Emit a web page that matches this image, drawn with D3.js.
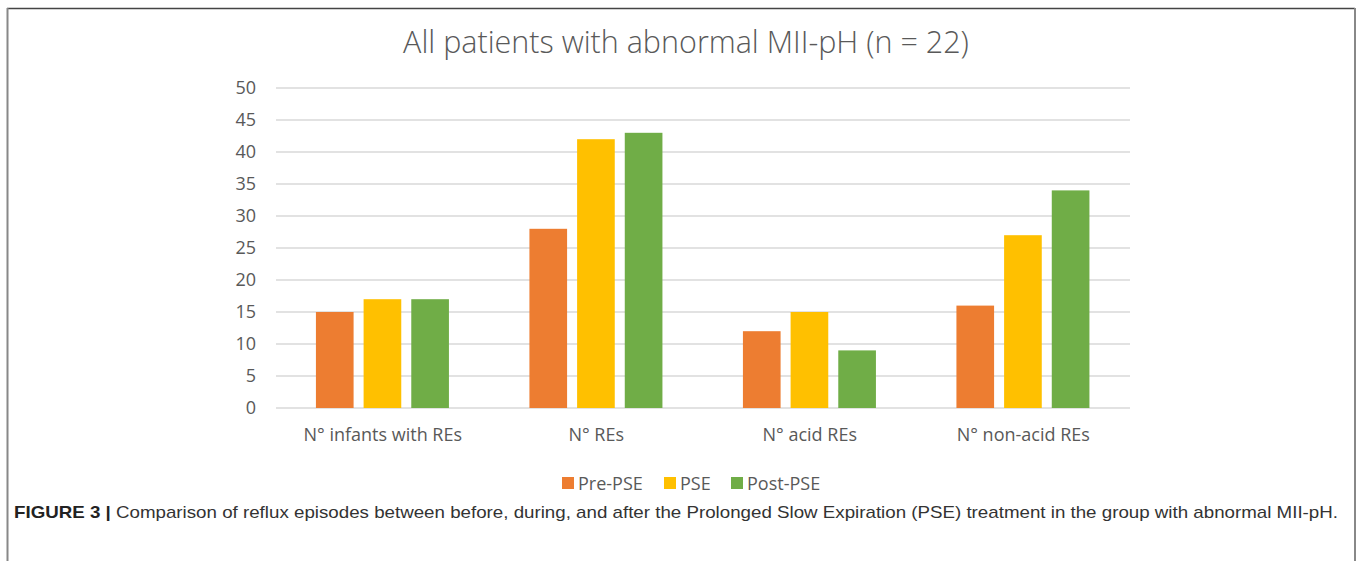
<!DOCTYPE html>
<html>
<head>
<meta charset="utf-8">
<script src="https://cdn.jsdelivr.net/npm/d3@7"></script>
<style>
  body { margin: 0; background: #fff; }
  svg { display: block; }
</style>
</head>
<body>
<div id="chart"></div>
<script>
var categories = ["N° infants with REs", "N° REs", "N° acid REs", "N° non-acid REs"];
var seriesNames = ["Pre-PSE", "PSE", "Post-PSE"];
var prePSE = [15, 28, 12, 16];
var pse = [17, 42, 15, 27];
var postPSE = [17, 43, 9, 34];
var yTicks = [0, 5, 10, 15, 20, 25, 30, 35, 40, 45, 50];
var colors = ["#ED7D31", "#FFC000", "#70AD47"];

var W = 1360, H = 561;
var margin = {top: 88, left: 276, right: 230, bottom: 153};
var width = W - margin.left - margin.right,
    height = H - margin.top - margin.bottom;

var rows = categories.map(function(c, i){
  return {cat: c, values: [prePSE[i], pse[i], postPSE[i]]};
});

var svg = d3.select("#chart").append("svg")
  .attr("width", W).attr("height", H);

// figure frame
svg.append("line").attr("x1", 7).attr("x2", 1355).attr("y1", 8.5).attr("y2", 8.5)
  .attr("stroke", "#444").attr("stroke-width", 1.5);
svg.append("line").attr("x1", 7.5).attr("x2", 7.5).attr("y1", 8).attr("y2", H)
  .attr("stroke", "#888").attr("stroke-width", 2);
svg.append("line").attr("x1", 1355).attr("x2", 1355).attr("y1", 8).attr("y2", H)
  .attr("stroke", "#888").attr("stroke-width", 2);

var g = svg.append("g")
  .attr("transform", "translate(" + margin.left + "," + margin.top + ")");

var x0 = d3.scaleBand().domain(categories).range([0, width]);
var x1 = d3.scaleBand().domain(d3.range(seriesNames.length))
  .range([x0.bandwidth() * 0.187, x0.bandwidth() * 0.81]).paddingInner(0.21);
var y = d3.scaleLinear().domain([0, 50]).range([height, 0]);

// gridlines
g.append("g")
  .selectAll("line")
  .data(yTicks)
  .enter().append("line")
  .attr("x1", 0).attr("x2", width)
  .attr("y1", function(d){ return y(d); })
  .attr("y2", function(d){ return y(d); })
  .attr("stroke", "#d9d9d9").attr("stroke-width", 1.3);

// y axis labels
var yAxis = g.append("g")
  .call(d3.axisLeft(y).tickValues(yTicks).tickSize(0).tickPadding(20));
yAxis.select(".domain").remove();
yAxis.selectAll("text")
  .attr("fill", "#595959")
  .style("font-family", "'Open Sans', sans-serif")
  .style("font-size", "18px");

// x axis labels
var xAxis = g.append("g")
  .attr("transform", "translate(0," + height + ")")
  .call(d3.axisBottom(x0).tickSize(0).tickPadding(20));
xAxis.select(".domain").remove();
xAxis.selectAll("text")
  .attr("fill", "#595959")
  .style("font-family", "'Open Sans', sans-serif")
  .style("font-size", "18px");

// bars
g.append("g")
  .selectAll("g")
  .data(rows)
  .enter().append("g")
  .attr("transform", function(d){ return "translate(" + x0(d.cat) + ",0)"; })
  .selectAll("rect")
  .data(function(d){ return d.values.map(function(v, i){ return {i: i, v: v}; }); })
  .enter().append("rect")
  .attr("x", function(d){ return x1(d.i); })
  .attr("width", x1.bandwidth())
  .attr("y", function(d){ return y(d.v); })
  .attr("height", function(d){ return height - y(d.v); })
  .attr("fill", function(d){ return colors[d.i]; });

// title
svg.append("text")
  .text("All patients with abnormal MII-pH (n = 22)")
  .attr("x", 686).attr("y", 53)
  .attr("text-anchor", "middle")
  .attr("fill", "#595959")
  .style("font-family", "'Open Sans', sans-serif")
  .style("font-weight", 300)
  .style("font-size", "30.5px");

// legend
var legendX = [562, 664, 731];
var legend = svg.append("g");
seriesNames.forEach(function(s, i){
  legend.append("rect")
    .attr("x", legendX[i]).attr("y", 477)
    .attr("width", 12).attr("height", 12)
    .attr("fill", colors[i]);
  legend.append("text")
    .text(s)
    .attr("x", legendX[i] + 16).attr("y", 490)
    .attr("fill", "#595959")
    .style("font-family", "'Open Sans', sans-serif")
    .style("font-size", "18px");
});

// caption
var cap = svg.append("text")
  .attr("x", 14).attr("y", 518)
  .attr("fill", "#333")
  .attr("textLength", 1324)
  .attr("lengthAdjust", "spacingAndGlyphs")
  .style("font-family", "'Liberation Sans', Arial, sans-serif")
  .style("font-size", "17px");
cap.append("tspan").text("FIGURE 3 | ").style("font-weight", "bold").attr("fill", "#222");
cap.append("tspan").text("Comparison of reflux episodes between before, during, and after the Prolonged Slow Expiration (PSE) treatment in the group with abnormal MII-pH.");
</script>
</body>
</html>
